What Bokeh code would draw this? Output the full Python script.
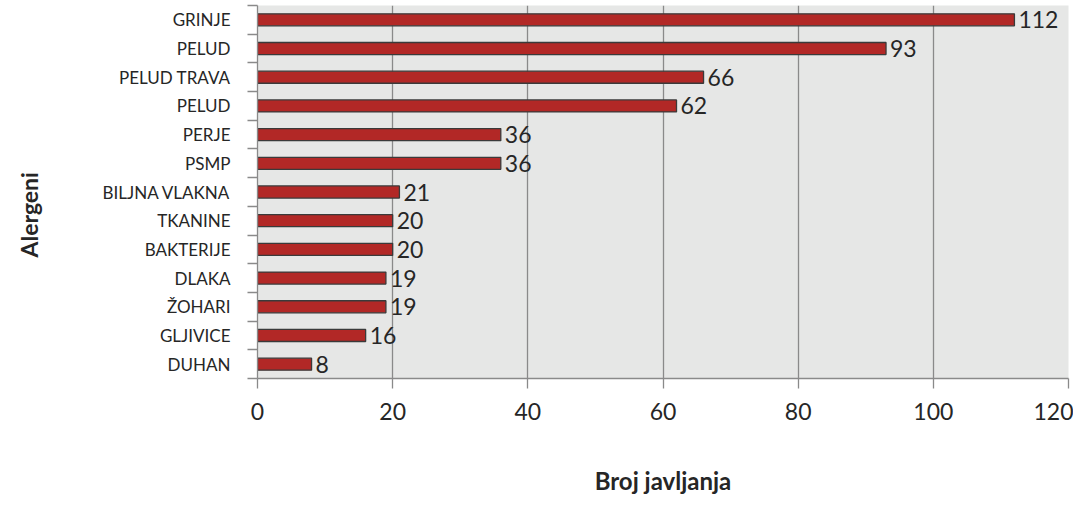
from bokeh.plotting import figure
from bokeh.models import Range1d, LinearAxis, FixedTicker, CustomJSTickFormatter, ColumnDataSource, Title
from bokeh.embed import file_html
from bokeh.resources import INLINE
from bokeh.core.properties import value

# data (top to bottom)
categories = ["GRINJE", "PELUD", "PELUD TRAVA", "PELUD", "PERJE", "PSMP",
              "BILJNA VLAKNA", "TKANINE", "BAKTERIJE", "DLAKA", "ŽOHARI",
              "GLJIVICE", "DUHAN"]
values = [112, 93, 66, 62, 36, 36, 21, 20, 20, 19, 19, 16, 8]
x_ticks = [0, 20, 40, 60, 80, 100, 120]
x_title = "Broj javljanja"
y_title = "Alergeni"

n = len(categories)
ypos = [n - 1 - i for i in range(n)]

FONT = "Lato"
TXT = "#262626"
GRID = "#8a8a8a"

p = figure(width=1073, height=504, output_backend="svg", toolbar_location=None,
           x_range=Range1d(0, 120), y_range=Range1d(-0.5, n - 0.5),
           y_axis_type=None,
           min_border_left=257, min_border_top=5, min_border_right=5, min_border_bottom=126)
p.background_fill_color = "#e6e7e6"
p.border_fill_color = "white"
p.outline_line_color = None

src = ColumnDataSource(dict(y=ypos, v=values, lab=[str(v) for v in values]))
p.hbar(y="y", right="v", left=0, height=0.42, source=src,
       fill_color="#b22826", line_color="#3a3a3a", line_width=1.3)
p.text(x="v", y="y", text="lab", source=src, x_offset=4, text_baseline="middle",
       text_align="left", text_font=value(FONT), text_font_size="23px", text_color=TXT)

# x axis
xa = p.xaxis[0]
xa.ticker = FixedTicker(ticks=x_ticks)
xa.minor_tick_line_color = None
xa.major_tick_out = 10
xa.major_tick_in = 0
xa.axis_line_color = GRID
xa.axis_line_width = 1.3
xa.major_tick_line_color = GRID
xa.major_tick_line_width = 1.3
xa.major_label_text_font = FONT
xa.major_label_text_font_size = "23px"
xa.major_label_text_color = TXT
xa.major_label_standoff = 14
xa.axis_label = x_title
xa.axis_label_text_font = FONT
xa.axis_label_text_font_style = "bold"
xa.axis_label_text_font_size = "24px"
xa.axis_label_text_color = TXT
xa.axis_label_standoff = 43

p.xgrid.ticker = FixedTicker(ticks=x_ticks)
p.xgrid.grid_line_color = GRID
p.xgrid.grid_line_width = 1.3
p.ygrid.grid_line_color = None

# inner left axis: boundary ticks only
bounds = [k - 0.5 for k in range(n + 1)]
ya_in = LinearAxis(ticker=FixedTicker(ticks=bounds),
                   formatter=CustomJSTickFormatter(code="return ''"))
ya_in.minor_tick_line_color = None
ya_in.major_tick_out = 10
ya_in.major_tick_in = 0
ya_in.major_label_standoff = 0
ya_in.axis_line_color = GRID
ya_in.axis_line_width = 1.3
ya_in.major_tick_line_color = GRID
ya_in.major_tick_line_width = 1.3
p.add_layout(ya_in, "left")

# outer left axis: category names (blank axis label only pads the panel outward)
ya_lab = LinearAxis(ticker=FixedTicker(ticks=ypos),
                    major_label_overrides={y: c for y, c in zip(ypos, categories)})
ya_lab.axis_line_color = None
ya_lab.major_tick_line_color = None
ya_lab.minor_tick_line_color = None
ya_lab.major_label_standoff = 11
ya_lab.major_label_text_font = FONT
ya_lab.major_label_text_font_size = "17px"
ya_lab.major_label_text_color = TXT
ya_lab.axis_label = " "
ya_lab.axis_label_text_font_size = "10px"
ya_lab.axis_label_standoff = 28
p.add_layout(ya_lab, "left")

# y title as outermost left panel, shifted slightly below centre
p.add_layout(Title(text=y_title, align="left", vertical_align="top", offset=121, standoff=26,
                   text_font=FONT, text_font_style="bold", text_font_size="23px",
                   text_color=TXT), "left")

open("out.html", "w").write(file_html(p, INLINE))
